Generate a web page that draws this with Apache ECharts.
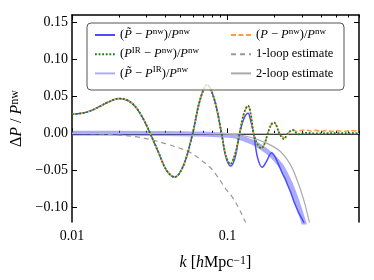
<!DOCTYPE html>
<html><head><meta charset="utf-8">
<script src="https://cdn.jsdelivr.net/npm/echarts@6/dist/echarts.min.js"></script>
<style>html,body{margin:0;padding:0;background:#fff}#c{width:374px;height:280px}</style>
</head><body><div id="c"></div>
<script>
// ---- data ----
const irK    = [0.0100,0.0115,0.0130,0.0150,0.0170,0.0201,0.0230,0.0258,0.0288,0.0318,0.0360,0.0405,0.0457,0.0520,0.0597,0.0665,0.0739,0.0822,0.0915,0.0975,0.1040,0.1115,0.1196,0.1275,0.1355,0.1410,0.1470,0.1560,0.1650,0.1730,0.1815,0.1900,0.1985,0.2065,0.2150,0.2300,0.2450,0.2610,0.2740,0.2880,0.3050,0.3200,0.3600,0.4500,0.7000];
const irVals = [0.0257,0.0270,0.0300,0.0360,0.0420,0.0469,0.0440,0.0350,0.0190,0.0000,-0.0260,-0.0500,-0.0592,-0.0440,0.0000,0.0450,0.0655,0.0460,0.0000,-0.0300,-0.0416,-0.0290,0.0000,0.0270,0.0374,0.0260,0.0000,-0.0150,-0.0203,-0.0140,0.0000,0.0110,0.0149,0.0100,0.0000,-0.0077,0.0000,0.0045,0.0010,-0.0014,0.0000,0.0006,-0.0002,0.0001,0.0000];

const fullK    = [0.0100,0.0115,0.0130,0.0150,0.0170,0.0201,0.0230,0.0258,0.0288,0.0318,0.0360,0.0405,0.0457,0.0520,0.0597,0.0665,0.0739,0.0822,0.0915,0.0975,0.1040,0.1115,0.1196,0.1275,0.1355,0.1410,0.1470,0.1560,0.1650,0.1730,0.1815,0.1900,0.1985,0.2065,0.2150,0.2320,0.2470,0.2620,0.2800,0.3000,0.3200,0.3450,0.3700,0.4000,0.4300,0.4700,0.5100,0.5600,0.6200,0.7000];
const fullVals = [0.0257,0.0270,0.0300,0.0360,0.0420,0.0469,0.0440,0.0350,0.0190,0.0000,-0.0260,-0.0500,-0.0592,-0.0440,0.0000,0.0450,0.0655,0.0460,0.0000,-0.0300,-0.0416,-0.0290,0.0000,0.0270,0.0374,0.0260,0.0000,-0.0150,-0.0203,-0.0140,0.0000,0.0110,0.0149,0.0100,0.0010,-0.0060,0.0005,0.0050,0.0020,0.0040,0.0045,0.0030,0.0040,0.0025,0.0040,0.0025,0.0035,0.0025,0.0035,0.0030];

const tildeK    = [0.0100,0.0115,0.0130,0.0150,0.0170,0.0201,0.0230,0.0258,0.0288,0.0318,0.0360,0.0405,0.0457,0.0520,0.0597,0.0665,0.0739,0.0822,0.0915,0.0975,0.1050,0.1120,0.1196,0.1275,0.1355,0.1405,0.1470,0.1560,0.1670,0.1790,0.1920,0.2010,0.2105,0.2248,0.2350,0.2450,0.2560,0.2676,0.2872,0.3070,0.3200];
const tildeVals = [0.0257,0.0270,0.0300,0.0360,0.0420,0.0469,0.0440,0.0350,0.0190,0.0000,-0.0260,-0.0500,-0.0592,-0.0440,0.0000,0.0450,0.0655,0.0460,0.0000,-0.0320,-0.0443,-0.0320,0.0000,0.0200,0.0271,0.0180,0.0000,-0.0330,-0.0460,-0.0370,-0.0263,-0.0310,-0.0400,-0.0540,-0.0620,-0.0714,-0.0810,-0.0927,-0.1080,-0.1190,-0.1320];

const tIrK    = [0.0100,0.0300,0.0500,0.0665,0.0853,0.1093,0.1404,0.1624,0.1880,0.2187,0.2414,0.2676,0.2956,0.3092,0.3250];
const tIrVals = [0.0000,-0.0002,-0.0005,-0.0010,-0.0020,-0.0035,-0.0110,-0.0180,-0.0280,-0.0430,-0.0590,-0.0810,-0.1080,-0.1210,-0.1380];

const oneLoopK    = [0.0100,0.0150,0.0200,0.0255,0.0326,0.0400,0.0563,0.0663,0.0795,0.0988,0.1070,0.1180,0.1270,0.1350];
const oneLoopVals = [0.0000,-0.0010,-0.0025,-0.0045,-0.0090,-0.0140,-0.0250,-0.0350,-0.0490,-0.0770,-0.0860,-0.1010,-0.1150,-0.1270];

const twoLoopK    = [0.0100,0.0500,0.0800,0.1093,0.1404,0.1797,0.2187,0.2539,0.2800,0.3092,0.3356,0.3450];
const twoLoopVals = [0.0000,-0.0002,-0.0008,-0.0014,-0.0054,-0.0136,-0.0247,-0.0427,-0.0633,-0.0903,-0.1200,-0.1330];

const xMajorTicks = [0.01, 0.1];
const xMinorTicks = [0.02,0.03,0.04,0.05,0.06,0.07,0.08,0.09,0.2,0.3,0.4,0.5,0.6,0.7];
const yTicks = [-0.10,-0.05,0.00,0.05,0.10,0.15];

const names = {
  tnw: '({i|P\u0303} − {i|P}{s|nw})/{i|P}{s|nw}',
  irnw: '({i|P}{s|IR} − {i|P}{s|nw})/{i|P}{s|nw}',
  tir: '({i|P\u0303} − {i|P}{s|IR})/{i|P}{s|nw}',
  pnw: '({i|P} − {i|P}{s|nw})/{i|P}{s|nw}',
  one: '1-loop estimate',
  two: '2-loop estimate'
};

// ---- chart ----
const zip = (a, b) => a.map((v, i) => [v, b[i]]);
const FONT = 'Liberation Serif';
const rich = (size) => ({
  i: {fontStyle: 'italic', fontFamily: FONT, fontSize: size, color: '#000'},
  s: {fontFamily: FONT, fontSize: Math.round(size * 0.74), verticalAlign: 'top', color: '#000'}
});
const XMIN = 0.01, XMAX = 0.7, YMIN = -0.12, YMAX = 0.16;
const frame = {show: true, lineStyle: {color: '#000', width: 1.5}};

function xAx(pos, ticks, len, showLine, labels) {
  return {
    type: 'log', logBase: 10, min: XMIN, max: XMAX, position: pos,
    axisLine: showLine ? frame : {show: false},
    axisTick: {show: true, inside: true, length: len, customValues: ticks, lineStyle: {color: '#000', width: 1}},
    axisLabel: labels ? {show: true, customValues: xMajorTicks, margin: 7, fontFamily: FONT, fontSize: 14, color: '#000', formatter: v => String(+v.toPrecision(3))} : {show: false},
    splitLine: {show: false}, minorTick: {show: false}
  };
}
function yAx(pos, labels) {
  return {
    type: 'value', min: YMIN, max: YMAX, position: pos,
    axisLine: frame,
    axisTick: {show: true, inside: true, length: 5, customValues: yTicks, lineStyle: {color: '#000', width: 1}},
    axisLabel: labels ? {show: true, customValues: yTicks, margin: 4, fontFamily: FONT, fontSize: 14, color: '#000',
      formatter: v => (v < -1e-9 ? '\u2212' : '') + Math.abs(v).toFixed(2)} : {show: false},
    splitLine: {show: false},
    name: labels ? 'Δ{i|P} / {i|P}{s|nw}' : '', nameLocation: 'middle', nameGap: 30,
    nameTextStyle: {fontFamily: FONT, fontSize: 16, color: '#000', rich: rich(16)}
  };
}

const xAxes = [xAx('bottom', xMajorTicks, 5, true, true), xAx('bottom', xMinorTicks, 2.5, false, false),
               xAx('top', xMajorTicks, 5, true, false), xAx('top', xMinorTicks, 2.5, false, false)];
xAxes[0].name = '{i|k} [{i|h}Mpc{s|−1}]';
xAxes[0].nameLocation = 'middle';
xAxes[0].nameGap = 33;
xAxes[0].nameTextStyle = {fontFamily: FONT, fontSize: 16, color: '#000', rich: rich(16)};

const base = {type: 'line', xAxisIndex: 0, yAxisIndex: 0, showSymbol: false, symbol: 'none', smooth: 0.35, animation: false, silent: true};

const series = [
  Object.assign({}, base, {name: names.tir, data: zip(tIrK, tIrVals), z: 1,
    lineStyle: {color: 'rgba(90,90,255,0.5)', width: 5}, itemStyle: {color: 'rgba(90,90,255,0.5)'}}),
  Object.assign({}, base, {name: names.two, data: zip(twoLoopK, twoLoopVals), z: 2,
    lineStyle: {color: '#aaaaaa', width: 1.2}, itemStyle: {color: '#aaaaaa'},
    markLine: {silent: true, symbol: ['none', 'none'], label: {show: false}, animation: false,
      lineStyle: {color: '#bbbbbb', width: 1, type: 'solid'}, data: [{yAxis: 0}]}}),
  Object.assign({}, base, {name: names.one, data: zip(oneLoopK, oneLoopVals), z: 2,
    lineStyle: {color: '#999999', width: 1.2, type: [5, 4]}, itemStyle: {color: '#999999'}}),
  Object.assign({}, base, {name: names.tnw, data: zip(tildeK, tildeVals), z: 3,
    lineStyle: {color: '#4b4bff', width: 1.5}, itemStyle: {color: '#4b4bff'}}),
  Object.assign({}, base, {name: names.pnw, data: zip(fullK, fullVals), z: 4,
    lineStyle: {color: '#ff9a4d', width: 1.6, type: [5, 2.5]}, itemStyle: {color: '#ff9a4d'}}),
  Object.assign({}, base, {name: names.irnw, data: zip(irK, irVals), z: 5,
    lineStyle: {color: '#1a7f1a', width: 1.8, type: [1.8, 1.8]}, itemStyle: {color: '#1a7f1a'}})
];

const legendCommon = {
  orient: 'vertical', top: 27, itemWidth: 20, itemHeight: 14, itemGap: 3.2, z: 20,
  selectedMode: false, padding: 0,
  itemStyle: {opacity: 0, borderWidth: 0},
  textStyle: {fontFamily: FONT, fontSize: 12.5, color: '#000', lineHeight: 16, rich: rich(12.5)},
  formatter: n => n
};

const chart = echarts.init(document.getElementById('c'), null, {renderer: 'canvas'});
chart.setOption({
  animation: false,
  backgroundColor: '#fff',
  grid: {left: 72, right: 15, top: 15, bottom: 58, containLabel: false},
  xAxis: xAxes,
  yAxis: [yAx('left', true), yAx('right', false)],
  legend: [
    Object.assign({}, legendCommon, {left: 94, data: [names.tnw, names.irnw, names.tir]}),
    Object.assign({}, legendCommon, {left: 230, data: [names.pnw, names.one, names.two]})
  ],
  graphic: [{type: 'rect', z: 10, silent: true,
    shape: {x: 87, y: 23, width: 257, height: 67, r: 4},
    style: {fill: 'rgba(255,255,255,0.8)', stroke: '#555', lineWidth: 1}}],
  series: series
});
</script></body></html>
